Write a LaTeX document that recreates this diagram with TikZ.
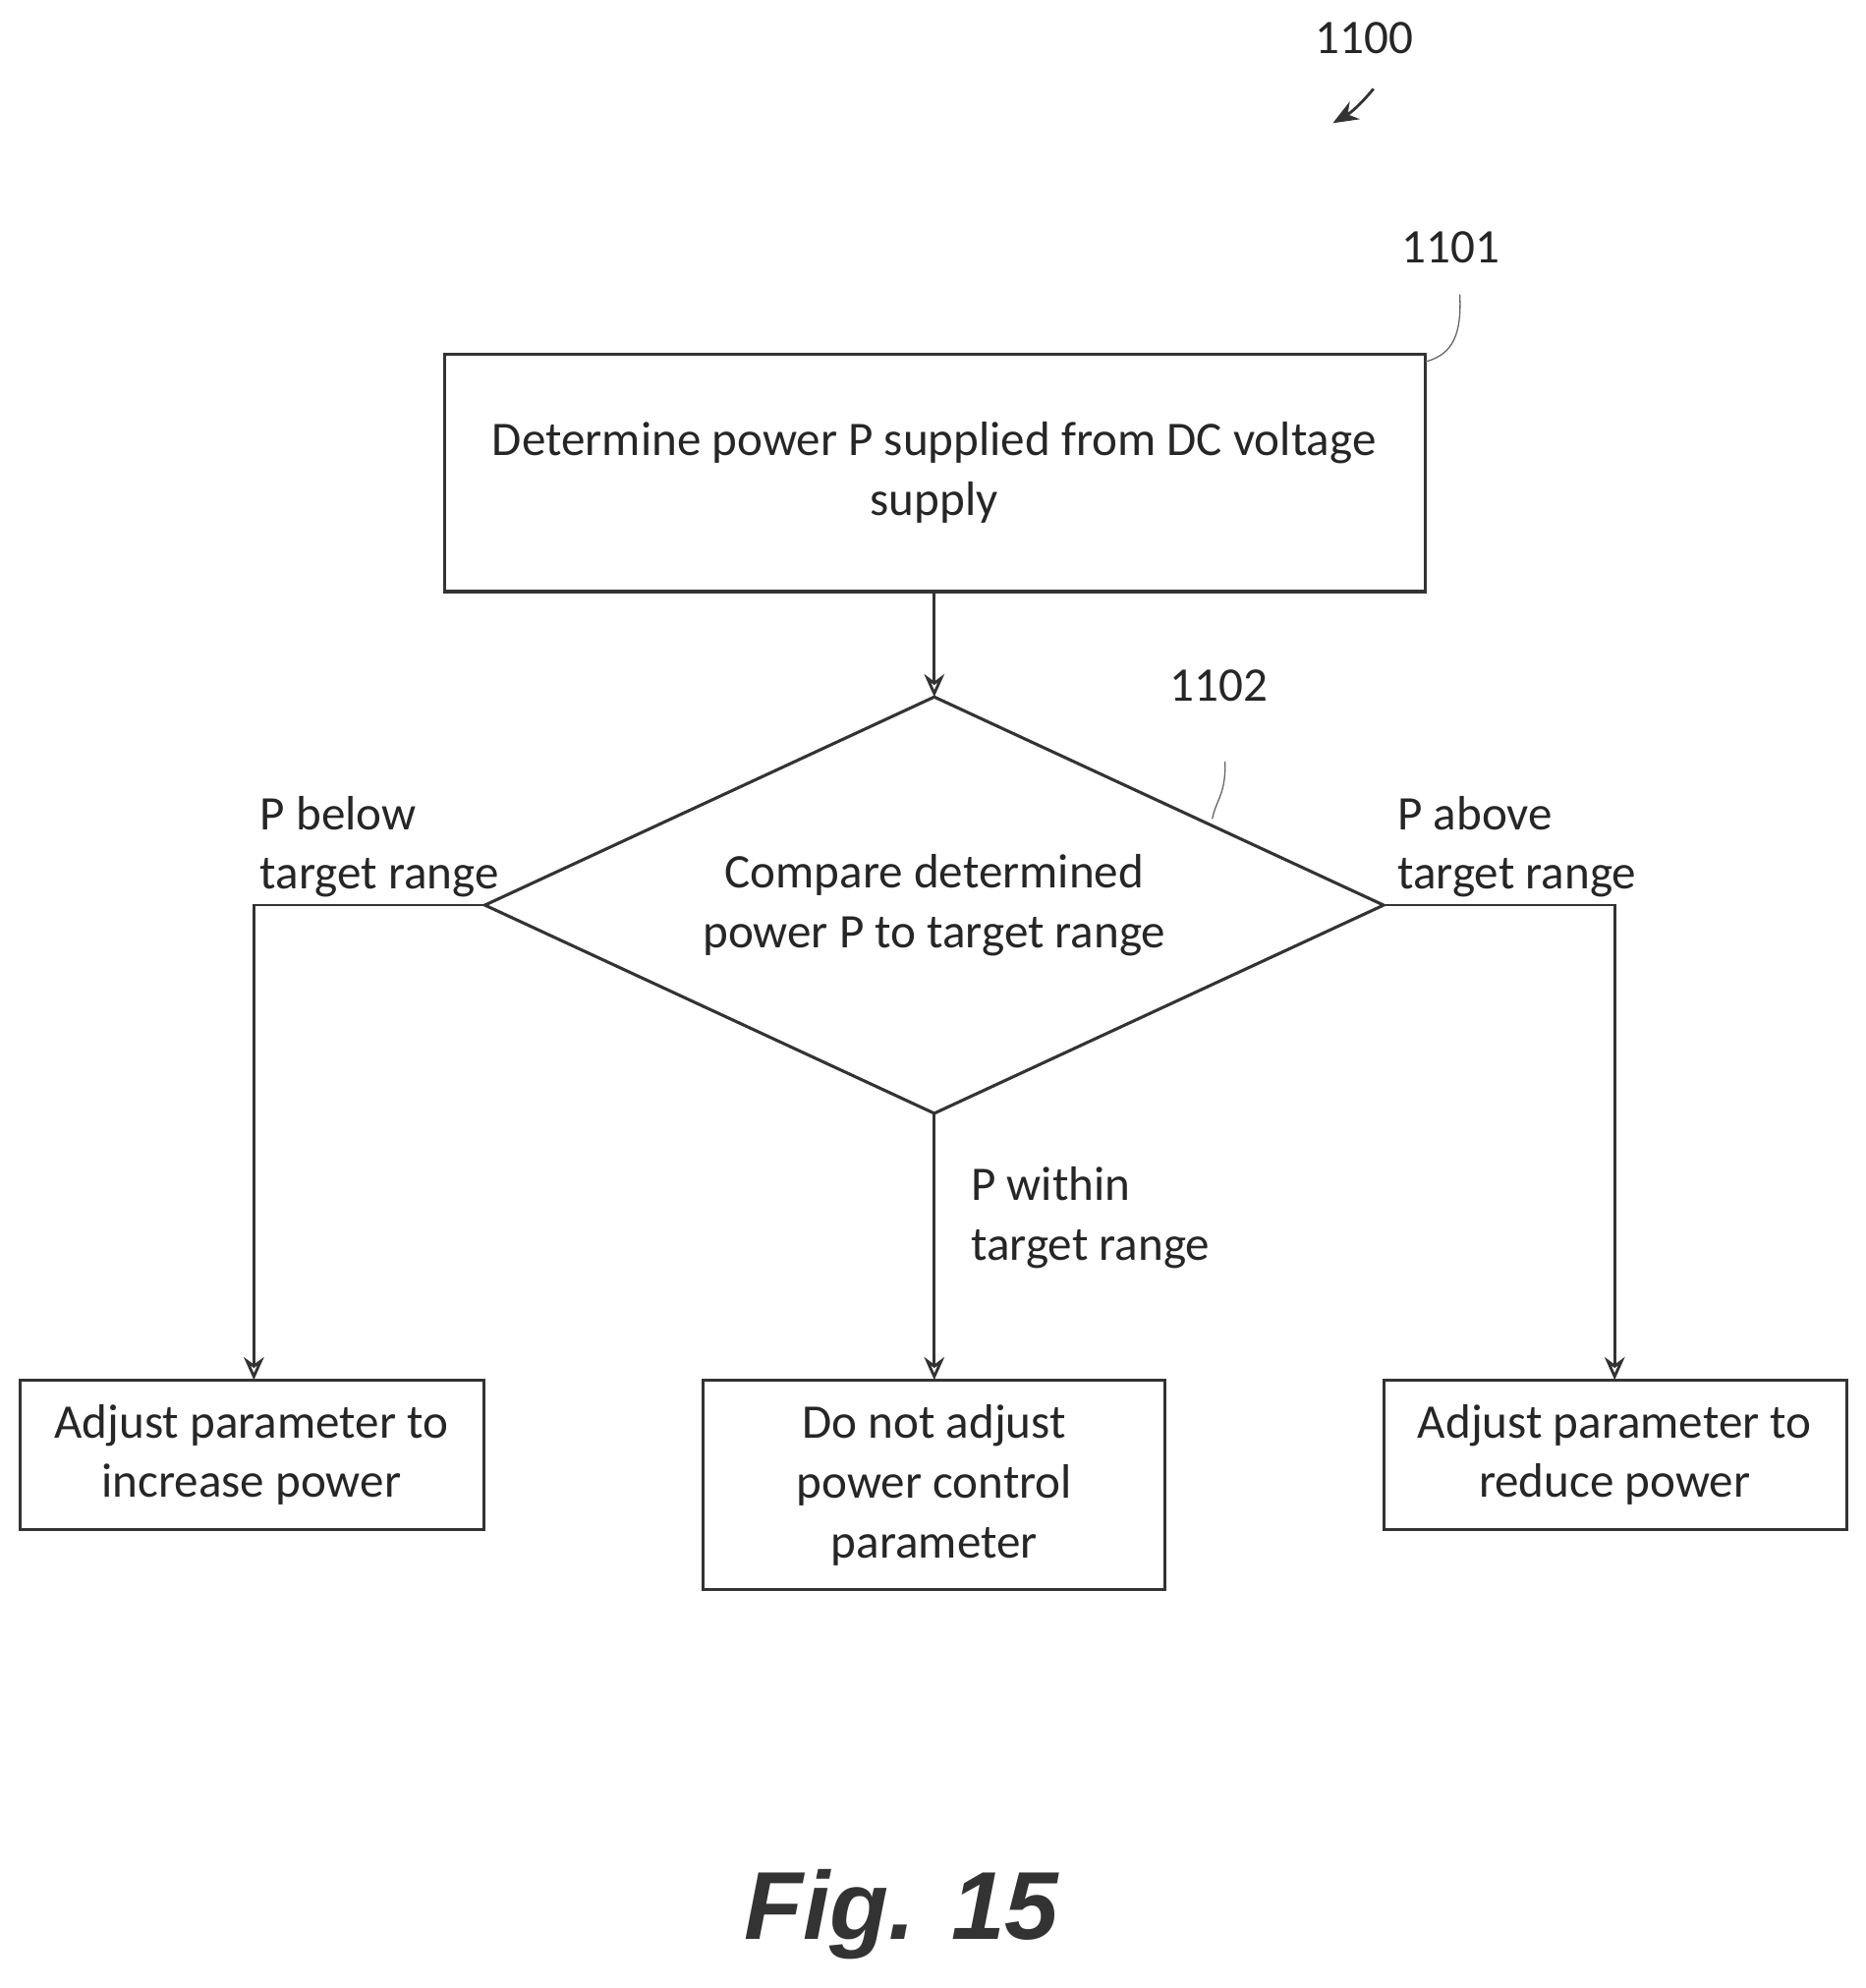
\documentclass[tikz,border=0pt]{standalone}
\usepackage{fontspec}
\setmainfont{Carlito}
\newfontfamily\figfont{Liberation Sans}
\usetikzlibrary{arrows.meta}
\begin{document}
\begin{tikzpicture}[x=0.5pt,y=-0.5pt,
  txt/.style={font=\fontsize{19}{23.5}\selectfont,text=black!85},
  box/.style={draw=black!80,line width=1.2pt},
  arr/.style={draw=black!80,line width=1.1pt,-{Stealth[open,length=9pt,width=8pt]}},
  lead/.style={draw=black!60,line width=0.5pt}]
\useasboundingbox (0,0) rectangle (1470,1566);
\node[txt] (l1100) at (1075,30) {1100};
\coordinate (a1) at (1082,70); \coordinate (a2) at (1050,97);
\draw[arr,-{Stealth[length=10pt,width=8pt]}] (a1) to[bend left=10] (a2);
\draw[box] (350,279) rectangle (1123,466);
\node[txt,align=center] (b1) at (736,372) {Determine power P supplied from DC voltage\\supply};
\node[txt] (l1101) at (1143,195) {1101};
\coordinate (c1) at (1150,232); \coordinate (c2) at (1123,285);
\draw[lead] (c1) .. controls (1152,270) and (1140,280) .. (c2);
\coordinate (dt) at (736,549); \coordinate (dl) at (382,713);
\coordinate (dr) at (1090,713); \coordinate (db) at (736,877);
\draw[box] (dt) -- (dr) -- (db) -- (dl) -- cycle;
\node[txt,align=center] (d) at (736,713) {Compare determined\\power P to target range};
\draw[arr] (736,466) -- (dt);
\node[txt] (l1102) at (960,540) {1102};
\coordinate (e1) at (965,600); \coordinate (e2) at (955,645);
\draw[lead] (e1) .. controls (966,625) and (958,630) .. (e2);
\draw[box] (16,1087) rectangle (381,1205);
\node[txt,align=center] (bl) at (198,1146) {Adjust parameter to\\increase power};
\draw[box] (554,1087) rectangle (918,1252);
\node[txt,align=center] (bm) at (736,1170) {Do not adjust\\power control\\parameter};
\draw[box] (1090,1087) rectangle (1455,1205);
\node[txt,align=center] (br) at (1272,1146) {Adjust parameter to\\reduce power};
\draw[arr] (dl) -- (200,713) -- (200,1087);
\draw[arr] (dr) -- (1272,713) -- (1272,1087);
\draw[arr] (db) -- (736,1087);
\node[txt,align=left,anchor=north west] (lb) at (198,620) {P below\\target range};
\node[txt,align=left,anchor=north west] (la) at (1094,620) {P above\\target range};
\node[txt,align=left,anchor=north west] (lw) at (758,912) {P within\\target range};
\node[font=\figfont\bfseries\itshape\fontsize{38}{40}\selectfont,text=black!80] (fig) at (710,1508) {Fig. 15};
\end{tikzpicture}
\end{document}
